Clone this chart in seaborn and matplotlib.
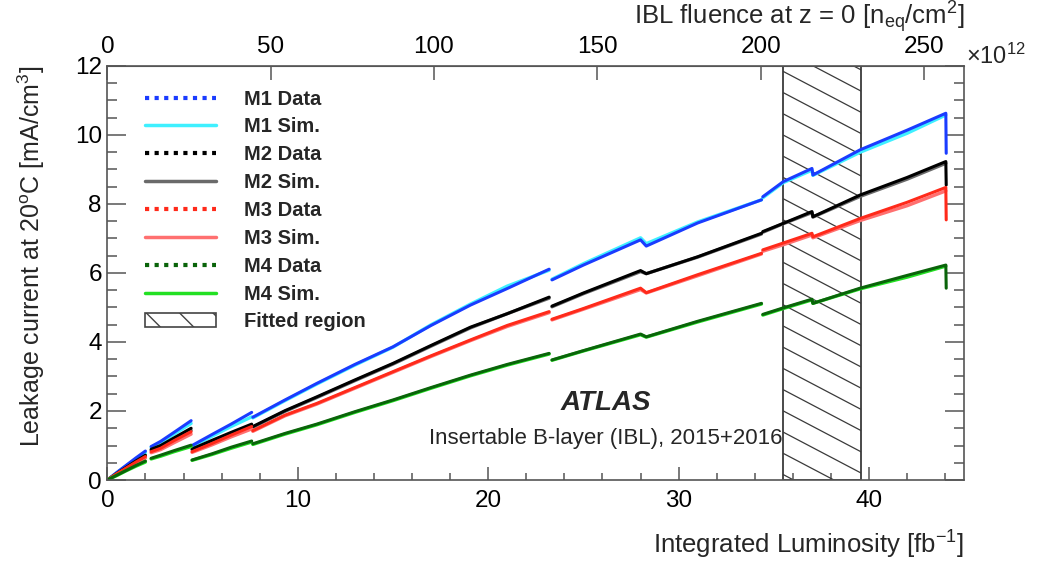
import numpy as np
import pandas as pd
import seaborn as sns
import matplotlib.pyplot as plt
from matplotlib.lines import Line2D
from matplotlib.patches import Patch, Rectangle
from matplotlib.ticker import MultipleLocator, FixedLocator

# integrated luminosity [fb-1], segment id (gaps = annealing periods)
lumi = [0.0, 0.5, 1.0, 1.5, 2.0,
        2.3, 2.8, 3.5, 4.4,
        4.45, 5.5, 6.5, 7.58,
        7.64, 9.33, 11.0, 13.0, 15.0, 17.0, 19.07, 21.0, 23.2,
        23.35, 25.0, 28.0, 28.3, 31.0, 34.35,
        34.42, 35.5, 37.0, 37.05, 39.53, 42.0, 44.03, 44.05]
seg = [0] * 5 + [1] * 4 + [2] * 4 + [3] * 9 + [4] * 6 + [5] * 8

# leakage current at 20C [mA/cm3], data
m1_data = [0, 0.22, 0.43, 0.64, 0.84,
           0.97, 1.12, 1.38, 1.72,
           1.00, 1.32, 1.62, 1.96,
           1.82, 2.32, 2.80, 3.35, 3.86, 4.48, 5.07, 5.55, 6.11,
           5.80, 6.23, 6.96, 6.78, 7.45, 8.12,
           8.21, 8.65, 9.03, 8.84, 9.57, 10.14, 10.63, 9.47]
m2_data = [0, 0.19, 0.37, 0.55, 0.72,
           0.89, 1.00, 1.22, 1.50,
           0.90, 1.15, 1.38, 1.62,
           1.55, 2.01, 2.41, 2.90, 3.38, 3.90, 4.43, 4.82, 5.30,
           5.04, 5.42, 6.07, 5.98, 6.47, 7.15,
           7.20, 7.44, 7.78, 7.63, 8.26, 8.77, 9.23, 8.55]
m3_data = [0, 0.18, 0.35, 0.52, 0.68,
           0.82, 0.92, 1.14, 1.40,
           0.82, 1.06, 1.30, 1.55,
           1.43, 1.88, 2.22, 2.68, 3.14, 3.60, 4.06, 4.48, 4.88,
           4.66, 4.97, 5.56, 5.43, 5.95, 6.57,
           6.67, 6.87, 7.15, 7.05, 7.58, 8.05, 8.48, 7.54]
m4_data = [0, 0.14, 0.28, 0.42, 0.55,
           0.63, 0.72, 0.85, 1.01,
           0.58, 0.76, 0.95, 1.13,
           1.05, 1.35, 1.62, 1.98, 2.32, 2.68, 3.04, 3.35, 3.67,
           3.48, 3.75, 4.23, 4.15, 4.60, 5.12,
           4.80, 4.99, 5.24, 5.12, 5.56, 5.93, 6.23, 5.56]

# simulation
m1_sim = [0, 0.21, 0.41, 0.61, 0.80,
          0.95, 1.08, 1.33, 1.64,
          0.97, 1.27, 1.55, 1.83,
          1.80, 2.30, 2.78, 3.33, 3.85, 4.50, 5.10, 5.62, 6.08,
          5.82, 6.27, 7.02, 6.85, 7.48, 8.12,
          8.18, 8.62, 8.98, 8.83, 9.50, 10.05, 10.58, np.nan]
m2_sim = [0, 0.18, 0.35, 0.52, 0.68,
          0.86, 0.97, 1.18, 1.44,
          0.88, 1.11, 1.33, 1.57,
          1.53, 1.99, 2.39, 2.88, 3.36, 3.88, 4.41, 4.82, 5.27,
          5.02, 5.40, 6.04, 5.98, 6.46, 7.13,
          7.18, 7.43, 7.75, 7.62, 8.22, 8.72, 9.18, np.nan]
m3_sim = [0, 0.17, 0.33, 0.49, 0.64,
          0.79, 0.88, 1.08, 1.33,
          0.80, 1.02, 1.25, 1.48,
          1.41, 1.86, 2.20, 2.66, 3.12, 3.58, 4.04, 4.45, 4.85,
          4.64, 4.95, 5.52, 5.42, 5.92, 6.55,
          6.63, 6.82, 7.10, 7.02, 7.52, 7.95, 8.38, np.nan]
m4_sim = [0, 0.13, 0.27, 0.40, 0.52,
          0.61, 0.69, 0.82, 0.97,
          0.57, 0.74, 0.92, 1.10,
          1.03, 1.33, 1.60, 1.96, 2.30, 2.66, 3.02, 3.33, 3.65,
          3.47, 3.74, 4.21, 4.14, 4.58, 5.10,
          4.78, 4.97, 5.22, 5.12, 5.54, 5.88, 6.20, np.nan]

fit_lo, fit_hi = 35.5, 39.6
fluence_per_fb = 5.83  # x1e12 neq/cm2 per fb-1
fluence_ticks = [0, 50, 100, 150, 200, 250]

series = [
    ('M1 Sim.', m1_sim, '#3ff0ff', 2.4), ('M1 Data', m1_data, '#1a3cff', 2.2),
    ('M2 Sim.', m2_sim, '#6a6a6a', 2.4), ('M2 Data', m2_data, '#000000', 2.2),
    ('M3 Sim.', m3_sim, '#ff7070', 2.4), ('M3 Data', m3_data, '#ff2a1a', 2.2),
    ('M4 Sim.', m4_sim, '#22e022', 2.4), ('M4 Data', m4_data, '#0a640a', 2.2),
]

sns.set_style('ticks')
plt.rcParams['font.family'] = ['Liberation Sans', 'DejaVu Sans']
plt.rcParams['mathtext.fontset'] = 'custom'
plt.rcParams['mathtext.rm'] = 'Liberation Sans'
plt.rcParams['mathtext.it'] = 'Liberation Sans:italic'
plt.rcParams['mathtext.bf'] = 'Liberation Sans:bold'
plt.rcParams['hatch.linewidth'] = 1.0

fig, ax = plt.subplots(figsize=(10.38, 5.62), dpi=100)
fig.subplots_adjust(left=0.1034, right=0.929, bottom=0.1459, top=0.8826)

# fitted region: box plus shallow diagonal hatch lines clipped to it
box = Rectangle((fit_lo, 0), fit_hi - fit_lo, 12, fill=False, edgecolor='#3a3a3a', lw=1.3, zorder=1)
ax.add_patch(box)
hatch_slope = 0.29   # y units per fb-1
hatch_step = 0.615
for y0 in 11.84 + hatch_step * np.arange(-20, 3):
    ln, = ax.plot([fit_lo, fit_hi], [y0, y0 - hatch_slope * (fit_hi - fit_lo)],
                  color='#3a3a3a', lw=0.9, zorder=1)
    ln.set_clip_path(box)

for name, vals, col, lw in series:
    df = pd.DataFrame({'lumi': lumi, 'cur': vals, 'seg': seg})
    sns.lineplot(data=df, x='lumi', y='cur', units='seg', estimator=None, sort=False,
                 color=col, lw=lw, legend=False, ax=ax, zorder=2)

ax.set_xlim(0, 45)
ax.set_ylim(0, 12)
ax.xaxis.set_major_locator(MultipleLocator(10))
ax.xaxis.set_minor_locator(MultipleLocator(2))
ax.yaxis.set_major_locator(MultipleLocator(2))
ax.yaxis.set_minor_locator(MultipleLocator(0.5))
ax.tick_params(axis='both', which='both', direction='in', colors='#555555',
               labelcolor='black', labelsize=17.5, right=True)
ax.tick_params(axis='x', which='major', length=9.5, width=1.1, pad=7)
ax.tick_params(axis='x', which='minor', length=5, width=1.1)
ax.tick_params(axis='y', which='major', length=13.5, width=1.1, pad=4)
ax.tick_params(axis='y', which='minor', length=7, width=1.1)
for s in ax.spines.values():
    s.set_color('#555555')
    s.set_linewidth(1.2)

ax.set_xlabel('Integrated Luminosity [fb$^{\\mathrm{-1}}$]', fontsize=18.5, loc='right', labelpad=12)
ax.set_ylabel('Leakage current at 20$^{\\mathrm{o}}$C [mA/cm$^{3}$]', fontsize=18, loc='top', labelpad=20)

sec = ax.secondary_xaxis('top', functions=(lambda x: x * fluence_per_fb, lambda f: f / fluence_per_fb))
sec.xaxis.set_major_locator(FixedLocator(fluence_ticks))
sec.tick_params(direction='in', length=10, width=1.1, colors='#555555', labelcolor='black',
                labelsize=17.5, pad=6)
sec.spines['top'].set_color('#555555')
sec.set_xlabel('IBL fluence at z = 0 [n$_{\\mathrm{eq}}$/cm$^{2}$]', fontsize=18.5, loc='right', labelpad=8)
fig.text(0.931, 0.899, '$\\times$10$^{12}$', fontsize=17, ha='left', va='center')

ax.text(0.582, 0.187, 'ATLAS', transform=ax.transAxes, fontsize=20, fontweight='bold',
        fontstyle='italic', ha='center', va='center')
ax.text(0.582, 0.101, 'Insertable B-layer (IBL), 2015+2016', transform=ax.transAxes,
        fontsize=16, ha='center', va='center')

handles = []
labels = []
for i in [1, 0, 3, 2, 5, 4, 7, 6]:
    name, vals, col, lw = series[i]
    if 'Data' in name:
        handles.append(Line2D([], [], color=col, lw=3, ls=(0, (1, 1.3))))
    else:
        handles.append(Line2D([], [], color=col, lw=2.5))
    labels.append(name)
handles.append(Patch(facecolor='white', edgecolor='#444444', hatch='\\', lw=1.2))
labels.append('Fitted region')
leg = ax.legend(handles, labels, loc='upper left', bbox_to_anchor=(0.044, 0.943),
                frameon=False, borderpad=0, borderaxespad=0, handlelength=3.5,
                handletextpad=1.4, labelspacing=0.44, prop={'weight': 'bold', 'size': 14.5})

fig.savefig('out.png', dpi=100)
